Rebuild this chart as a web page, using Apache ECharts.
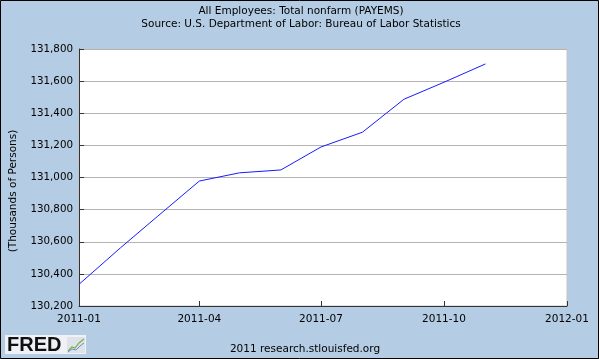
<!DOCTYPE html>
<html>
<head>
<meta charset="utf-8">
<script src="https://cdn.jsdelivr.net/npm/echarts@6/dist/echarts.min.js"></script>
<style>
html,body{margin:0;padding:0;background:#b4cde4;}
#chart{width:599px;height:359px;}
</style>
</head>
<body>
<div id="chart"></div>
<script>
var dates = ['2011-01-01','2011-02-01','2011-03-01','2011-04-01','2011-05-01','2011-06-01','2011-07-01','2011-08-01','2011-09-01','2011-10-01','2011-11-01'];
var payems = [130335, 130562, 130760, 130978, 131029, 131047, 131190, 131282, 131487, 131593, 131707];
var xTicks = ['2011-01-01','2011-04-01','2011-07-01','2011-10-01','2012-01-01'];
var yMin = 130200, yMax = 131800, yStep = 200;
var titleText = 'All Employees: Total nonfarm (PAYEMS)';
var subText = 'Source: U.S. Department of Labor: Bureau of Labor Statistics';
var yName = '(Thousands of Persons)';
var footer = '2011 research.stlouisfed.org';

var FONT = '"DejaVu Sans", Verdana, sans-serif';
var chart = echarts.init(document.getElementById('chart'), null, {renderer:'canvas'});
function ts(d){ return new Date(d + 'T00:00:00Z').getTime(); }
var tickTs = xTicks.map(ts);
function fmtDate(v){ var d = new Date(v); var m = d.getUTCMonth()+1; return d.getUTCFullYear() + '-' + (m<10?'0':'') + m; }

chart.setOption({
  backgroundColor: '#b4cde4',
  animation: false,
  grid: {left: 79, right: 32, top: 49, bottom: 53, show: true, backgroundColor: '#fff', borderColor: '#c4c4c4', borderWidth: 1},
  xAxis: {
    type: 'value',
    min: ts('2011-01-01'), max: ts('2012-01-01'),
    axisLine: {show: true, lineStyle: {color: '#333', width: 1}},
    axisTick: {show: true, inside: true, length: 5, lineStyle: {color: '#333'}, customValues: tickTs},
    axisLabel: {customValues: tickTs, formatter: fmtDate, fontFamily: FONT, fontSize: 10.5, color: '#000', margin: 8, showMinLabel: true, showMaxLabel: true, hideOverlap: false},
    splitLine: {show: false}
  },
  yAxis: {
    type: 'value', min: yMin, max: yMax, interval: yStep,
    axisLine: {show: true, lineStyle: {color: '#333', width: 1}},
    axisTick: {show: true, inside: true, length: 5, lineStyle: {color: '#333'}},
    axisLabel: {fontFamily: FONT, fontSize: 10.3, color: '#000', margin: 6,
      formatter: function(v){ return v.toString().replace(/\B(?=(\d{3})+(?!\d))/g, ','); }},
    splitLine: {show: true, lineStyle: {color: '#b4b4b4', width: 1}}
  },
  series: [{
    type: 'line',
    data: dates.map(function(d, i){ return [ts(d), payems[i]]; }),
    showSymbol: false,
    lineStyle: {color: '#1a1aff', width: 1},
    itemStyle: {color: '#1a1aff'}
  }],
  graphic: [
    {type: 'text', x: 301, y: 11,
      style: {text: titleText, font: '10.5px ' + FONT, fill: '#000', textAlign: 'center', textVerticalAlign: 'middle'}},
    {type: 'text', x: 301, y: 24,
      style: {text: subText, font: '10.5px ' + FONT, fill: '#000', textAlign: 'center', textVerticalAlign: 'middle'}},
    {type: 'text', x: 13, y: 191, rotation: Math.PI/2,
      style: {text: yName, font: '10.5px ' + FONT, fill: '#000', textAlign: 'center', textVerticalAlign: 'middle'}},
    {type: 'text', x: 305, y: 349.3,
      style: {text: footer, font: '10.5px ' + FONT, fill: '#000', textAlign: 'center', textVerticalAlign: 'middle'}},
    {type: 'rect', shape: {x: 5, y: 335, width: 81, height: 19}, style: {fill: '#eef2f6'}},
    {type: 'text', x: 7, y: 345.5,
      style: {text: 'FRED', font: 'bold 20px "Liberation Sans", Arial, sans-serif', fill: '#111', textVerticalAlign: 'middle'}},
    {type: 'rect', shape: {x: 67, y: 337, width: 18, height: 16}, style: {fill: '#dde3e8'}},
    {type: 'polyline', shape: {points: [[68,351],[72,347],[75,348],[79,343],[84,339]]}, style: {stroke: '#7ab04a', lineWidth: 1.2, fill: null}},
    {type: 'polyline', shape: {points: [[68,352],[72,349],[76,350],[80,346],[84,343]]}, style: {stroke: '#6a8ec0', lineWidth: 1, fill: null}},
    {type: 'rect', shape: {x: 0.5, y: 0.5, width: 598, height: 358}, style: {fill: null, stroke: '#000', lineWidth: 1}, z: 100}
  ]
});
</script>
</body>
</html>
